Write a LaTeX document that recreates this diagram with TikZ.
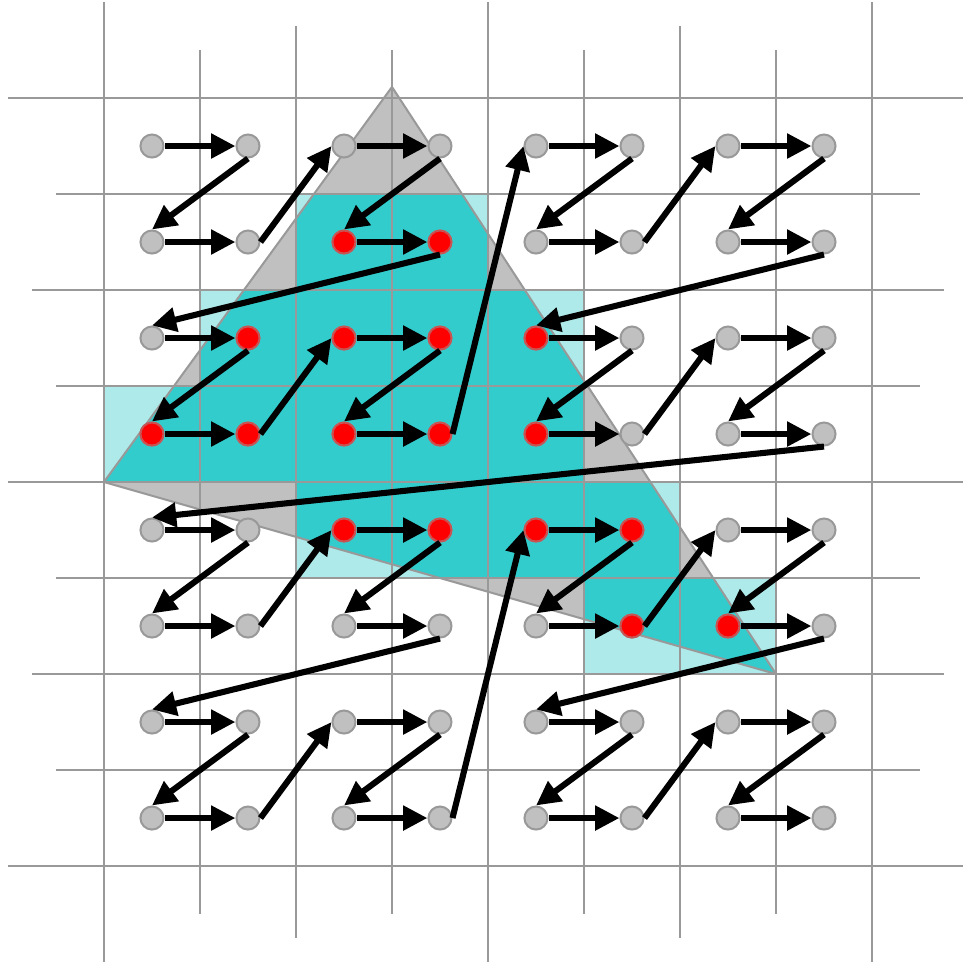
\documentclass[tikz,border=0pt]{standalone}
\usepackage{tikz}
\usetikzlibrary{arrows.meta}
\definecolor{linegray}{HTML}{999999}
\definecolor{dotgray}{HTML}{C0C0C0}
\definecolor{trifill}{HTML}{C0C0C0}
\definecolor{cellfill}{HTML}{AEEAEA}
\definecolor{hitfill}{HTML}{33CCCC}
\definecolor{hotred}{HTML}{FF0000}

\begin{document}
\begin{tikzpicture}[
  x=1cm, y=1cm,
  cell/.style    ={fill=cellfill},
  hit/.style     ={fill=hitfill},
  tri/.style     ={draw=linegray, line width=0.6pt, line join=round},
  gridline/.style={draw=linegray, line width=0.6pt},
  dot/.style     ={circle, minimum size=0.24cm, inner sep=0pt,
                   fill=dotgray, draw=linegray, line width=0.6pt},
  hot/.style     ={dot, fill=hotred, draw=hotred!45!linegray},
  hop/.style     ={-{Triangle[length=7.2pt, width=7pt]}, line width=1.8pt},
]
\useasboundingbox (-1.583,-8.51) rectangle (8.448,1.521);

% cells whose centre lies in the triangle: row / first column / last column
\def\hotcells{1/2/3, 2/1/4, 3/0/4, 4/2/5, 5/5/6}

\foreach \j/\a/\b in \hotcells
  \foreach \i in {\a,...,\b}
    \fill[cell] (\i-0.5,-\j+0.5) rectangle (\i+0.5,-\j-0.5);

\coordinate (apex)  at (2.5,0.615);
\coordinate (left)  at (-0.5,-3.5);
\coordinate (right) at (6.5,-5.5);

\fill[trifill] (apex) -- (left) -- (right) -- cycle;
\begin{scope}
  \clip (apex) -- (left) -- (right) -- cycle;
  \foreach \j/\a/\b in \hotcells
    \foreach \i in {\a,...,\b}
      \fill[hit] (\i-0.5,-\j+0.5) rectangle (\i+0.5,-\j-0.5);
\end{scope}

% quadtree grid, longer lines for coarser levels
\foreach \n/\e in {0/1, 1/0.5, 2/0.75, 3/0.5, 4/1, 5/0.5, 6/0.75, 7/0.5, 8/1} {
  \draw[gridline] (\n-0.5,0.5+\e) -- (\n-0.5,-7.5-\e);
  \draw[gridline] (-0.5-\e,0.5-\n) -- (7.5+\e,0.5-\n);
}
\draw[tri] (apex) -- (left) -- (right) -- cycle;

% sample points
\foreach \j in {0,...,7}
  \foreach \i in {0,...,7}
    \node[dot] (p\i-\j) at (\i,-\j) {};
\foreach \j/\a/\b in \hotcells
  \foreach \i in {\a,...,\b}
    \node[hot] (p\i-\j) at (\i,-\j) {};

% Morton order
\foreach \k in {0,...,62} {
  \pgfmathtruncatemacro\ax{mod(\k,2)+2*mod(int(\k/4),2)+4*mod(int(\k/16),2)}
  \pgfmathtruncatemacro\ay{mod(int(\k/2),2)+2*mod(int(\k/8),2)+4*mod(int(\k/32),2)}
  \pgfmathtruncatemacro\kk{\k+1}
  \pgfmathtruncatemacro\bx{mod(\kk,2)+2*mod(int(\kk/4),2)+4*mod(int(\kk/16),2)}
  \pgfmathtruncatemacro\by{mod(int(\kk/2),2)+2*mod(int(\kk/8),2)+4*mod(int(\kk/32),2)}
  \ifnum\by>\ay
    \draw[hop] (p\ax-\ay.south) -- (p\bx-\by.north);
  \else
    \draw[hop] (p\ax-\ay.east) -- (p\bx-\by.west);
  \fi
}

\end{tikzpicture}
\end{document}
